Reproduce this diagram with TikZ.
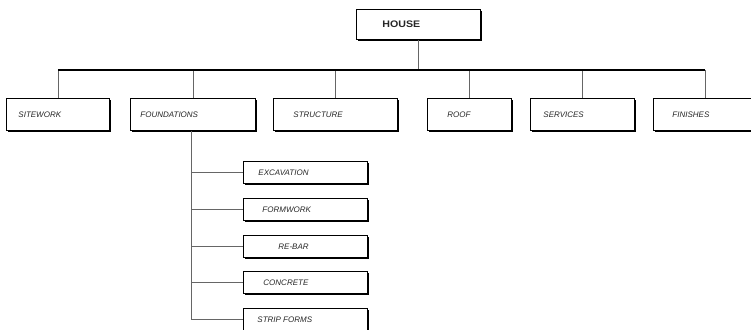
\documentclass[tikz,border=0pt]{standalone}
\usepackage{fontspec}
\usepackage{graphicx}
\setmainfont{Liberation Sans}
\usetikzlibrary{shadows}

% fixed-width cell: text starts #2 from the left edge of a #1-wide box
\newcommand\celltext[3]{\makebox[#1][l]{\hspace*{#2}#3}}

\tikzset{
  wbs/.style={draw=black, line width=0.9pt, fill=white, inner sep=0pt,
    anchor=north west, minimum height=#1,
    drop shadow={shadow xshift=1.3pt, shadow yshift=-1.3pt, opacity=1, fill=black},
    font=\fontsize{8}{9}\selectfont\itshape, text=black!85},
  link/.style={draw=black!60, line width=0.7pt},
  bar/.style={draw=black, line width=1.3pt},
}

\begin{document}
\begin{tikzpicture}[x=1pt, y=-1pt]
  \useasboundingbox (0,0) rectangle (751,329);
  \clip (0,0) rectangle (751,329);

  % top of the breakdown
  \node[wbs=30pt, font=\fontsize{9.5}{10}\selectfont\bfseries] (house) at (356,9)
    {\celltext{124pt}{26pt}{\scalebox{1.12}[1]{HOUSE}}};

  % first level
  \node[wbs=32pt] (sitework)    at (6,98)   {\celltext{103pt}{12pt}{SITEWORK}};
  \node[wbs=32pt] (foundations) at (130,98) {\celltext{125pt}{10pt}{FOUNDATIONS}};
  \node[wbs=32pt] (structure)   at (273,98) {\celltext{124pt}{20pt}{STRUCTURE}};
  \node[wbs=32pt] (roof)        at (427,98) {\celltext{84pt}{20pt}{ROOF}};
  \node[wbs=32pt] (services)    at (530,98) {\celltext{104pt}{13pt}{SERVICES}};
  \node[wbs=32pt] (finishes)    at (653,98) {\celltext{104pt}{19pt}{FINISHES}};

  % second level under foundations
  \node[wbs=22pt] (excavation) at (243,161) {\celltext{124pt}{15pt}{EXCAVATION}};
  \node[wbs=22pt] (formwork)   at (243,198) {\celltext{124pt}{19pt}{FORMWORK}};
  \node[wbs=22pt] (rebar)      at (243,235) {\celltext{124pt}{35pt}{RE-BAR}};
  \node[wbs=22pt] (concrete)   at (243,271) {\celltext{124pt}{20pt}{CONCRETE}};
  \node[wbs=22pt] (strip)      at (243,308) {\celltext{124pt}{14pt}{STRIP FORMS}};

  % connectors
  \coordinate (busline) at (0,70);
  \coordinate (trunk) at (191,0);

  \draw[link] (house.south) -- (house.south |- busline);
  \foreach \c in {sitework, foundations, structure, roof, services, finishes}
    \draw[link] (\c.north) -- (\c.north |- busline);
  \draw[bar] (sitework.north |- busline) -- (finishes.north |- busline);

  \draw[link] (foundations.south -| trunk) -- (strip.west -| trunk);
  \foreach \c in {excavation, formwork, rebar, concrete, strip}
    \draw[link] (\c.west -| trunk) -- (\c.west);
\end{tikzpicture}
\end{document}
